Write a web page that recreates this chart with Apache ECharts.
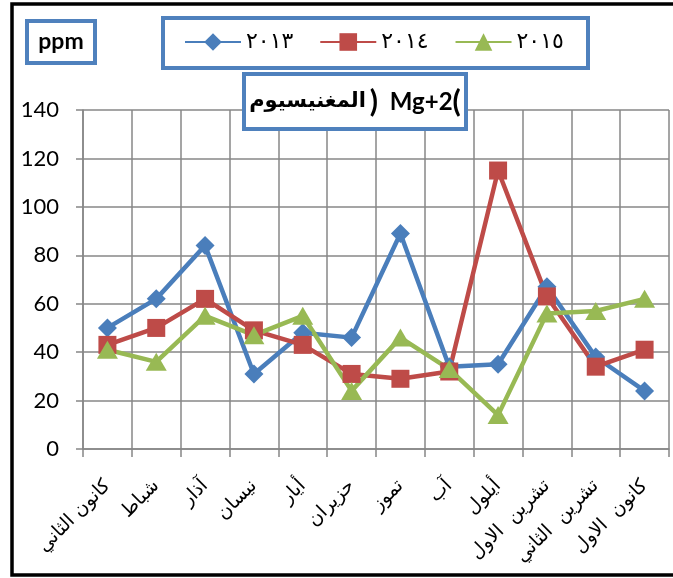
<!DOCTYPE html>
<html>
<head>
<meta charset="utf-8">
<script src="https://cdn.jsdelivr.net/npm/echarts@6/dist/echarts.min.js"></script>
<style>
  html, body { margin: 0; padding: 0; background: #ffffff; }
  #chart { width: 673px; height: 578px; }
</style>
</head>
<body>
<div id="chart"></div>
<script>
// Months (Levantine Arabic names)
const months = ['كانون الثاني', 'شباط', 'آذار', 'نيسان', 'أيار', 'حزيران',
                'تموز', 'آب', 'أيلول', 'تشرين  الاول', 'تشرين  الثاني', 'كانون  الاول'];

// Magnesium (Mg+2) concentration, ppm
const years = ['٢٠١٣', '٢٠١٤', '٢٠١٥'];
const mg2013 = [50, 62, 84, 31, 48, 46, 89, 34, 35, 67, 38, 24];
const mg2014 = [43, 50, 62, 49, 43, 31, 29, 32, 115, 63, 34, 41];
const mg2015 = [41, 36, 55, 47, 55, 24, 46, 33, 14, 56, 57, 62];

const yTicks = { min: 0, max: 140, step: 20 };

const blue = '#4A7EBB', red = '#BE4B48', green = '#98B954';
const gridGray = '#878787';
const arabicFont = '"DejaVu Sans", sans-serif';
const latinFont = 'Lato, "DejaVu Sans", sans-serif';
const LRM = '\u200E';

function lineSeries(name, data, color, symbol, size) {
  return {
    name: name,
    type: 'line',
    data: data,
    symbol: symbol,
    symbolSize: size,
    showAllSymbol: true,
    lineStyle: { color: color, width: 4.5 },
    itemStyle: { color: color, borderWidth: 0 },
    emphasis: { disabled: true },
    animation: false
  };
}

const chart = echarts.init(document.getElementById('chart'), null, { renderer: 'canvas' });

chart.setOption({
  animation: false,
  backgroundColor: '#ffffff',
  grid: { left: 83, right: 4, top: 110, bottom: 129, containLabel: false },
  legend: {
    data: years,
    left: 179,
    top: 26,
    itemWidth: 56,
    itemHeight: 22,
    itemGap: 26,
    textStyle: { fontFamily: arabicFont, fontSize: 22, color: '#000000' },
    selectedMode: false
  },
  xAxis: {
    type: 'category',
    data: months,
    boundaryGap: true,
    axisLine: { lineStyle: { color: gridGray, width: 1.5 } },
    axisTick: { show: true, length: 8, lineStyle: { color: gridGray, width: 1.5 } },
    splitLine: { show: true, lineStyle: { color: gridGray, width: 1.5 } },
    axisLabel: {
      interval: 0,
      rotate: 45,
      margin: 34,
      fontFamily: arabicFont,
      fontSize: 19,
      color: '#000000'
    }
  },
  yAxis: {
    type: 'value',
    min: yTicks.min,
    max: yTicks.max,
    interval: yTicks.step,
    axisLine: { show: true, lineStyle: { color: gridGray, width: 1.5 } },
    axisTick: { show: true, length: 7, lineStyle: { color: gridGray, width: 1.5 } },
    splitLine: { show: true, lineStyle: { color: gridGray, width: 1.5 } },
    axisLabel: { margin: 24, fontFamily: latinFont, fontSize: 22, color: '#000000' }
  },
  series: [
    lineSeries(years[0], mg2013, blue, 'diamond', 19),
    lineSeries(years[1], mg2014, red, 'rect', 18),
    lineSeries(years[2], mg2015, green, 'triangle', [21, 18])
  ],
  graphic: [
    {
      type: 'rect', z: 50, silent: true,
      shape: { x: 12, y: 4, width: 700, height: 571 },
      style: { fill: 'none', stroke: '#000000', lineWidth: 3.5 }
    },
    {
      type: 'rect', z: 50, silent: true,
      shape: { x: 27, y: 21, width: 68, height: 42 },
      style: { fill: '#ffffff', stroke: '#4F81BD', lineWidth: 4 }
    },
    {
      type: 'text', z: 51, silent: true,
      style: {
        text: 'ppm', x: 61, y: 42, align: 'center', verticalAlign: 'middle',
        font: 'bold 23px ' + latinFont, fill: '#000000'
      }
    },
    {
      type: 'rect', z: 1, silent: true,
      shape: { x: 163, y: 18, width: 425, height: 50 },
      style: { fill: 'none', stroke: '#4F81BD', lineWidth: 4 }
    },
    {
      type: 'rect', z: 50, silent: true,
      shape: { x: 244, y: 74, width: 222, height: 55 },
      style: { fill: '#ffffff', stroke: '#4F81BD', lineWidth: 4 }
    },
    {
      // title drawn as separate runs; LRM marks keep the brackets left-to-right
      type: 'text', z: 51, silent: true,
      style: {
        text: '{ar|المغنيسيوم}{p|' + LRM + ')' + LRM + '}{lat|  Mg+2}{p|' + LRM + '(' + LRM + '}',
        x: 355, y: 102, align: 'center', verticalAlign: 'middle',
        rich: {
          ar: { fontFamily: arabicFont, fontWeight: 'bold', fontSize: 21, fill: '#000000', padding: [0, 4, 0, 0] },
          lat: { fontFamily: latinFont, fontWeight: 'bold', fontSize: 24, fill: '#000000' },
          p: { fontFamily: latinFont, fontWeight: 'bold', fontSize: 30, fill: '#000000' }
        }
      }
    }
  ]
});
</script>
</body>
</html>
